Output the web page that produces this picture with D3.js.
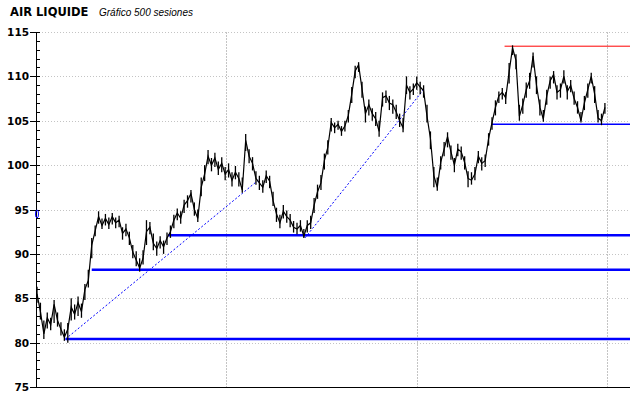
<!DOCTYPE html>
<html>
<head>
<meta charset="utf-8">
<script src="https://cdn.jsdelivr.net/npm/d3@7"></script>
<style>
  body { margin: 0; background: #fff; }
  svg { display: block; }
</style>
</head>
<body>
<svg id="chart" width="640" height="398"></svg>
<script>
// one value every 3 sessions (500 sessions)
var step = 3;
var closes = [
  85.5, 83.5, 81.0, 82.8, 82.0, 84.3, 82.5, 81.5, 80.6, 81.5,
  84.0, 83.2, 84.5, 83.5, 86.0, 87.0, 91.0, 92.6, 94.2, 93.2,
  94.0, 93.3, 94.2, 93.5, 93.8, 92.3, 92.8, 91.8, 90.2, 89.3,
  88.4, 89.5, 92.5, 93.0, 91.2, 90.6, 91.5, 90.8, 91.8, 92.5,
  93.8, 94.6, 94.0, 95.5, 96.0, 96.8, 95.0, 94.0, 97.5, 99.0,
  101.0, 100.0, 100.8, 99.5, 100.2, 99.0, 99.5, 98.3, 99.2, 98.5,
  97.2, 102.8, 101.0, 100.2, 98.5, 98.0, 97.5, 98.8, 98.2, 96.0,
  94.5, 93.5, 94.8, 94.2, 93.8, 93.0, 92.8, 93.2, 92.0, 93.2,
  93.5, 95.5, 97.0, 98.0, 100.5, 102.0, 104.8, 104.2, 104.6, 103.8,
  104.4, 105.6, 108.0, 110.6, 111.3, 108.6, 105.8, 106.8, 105.8, 105.2,
  103.8, 107.6, 107.8, 107.0, 106.8, 106.0, 105.0, 104.2, 109.0, 108.2,
  108.6, 109.3, 108.8, 108.4, 105.5, 103.0, 98.8, 97.5, 100.3, 101.8,
  103.2, 101.5, 100.0, 101.8, 101.5, 100.3, 98.5, 98.3, 99.0, 101.0,
  100.2, 100.5, 103.0, 104.8, 106.5, 107.8, 108.2, 107.6, 110.5, 113.2,
  111.8, 105.5, 106.8, 108.5, 109.5, 112.3, 109.0, 106.5, 105.2, 107.8,
  109.5, 110.2, 108.2, 108.5, 110.0, 108.3, 109.0, 107.5, 106.5, 105.0,
  107.0, 108.5, 110.0, 108.0, 105.3, 105.0, 106.5
];
var lows = [
  84.5, 82.6, 80.4, 81.6, 81.4, 82.2, 81.8, 80.8, 80.2, 80.0,
  82.5, 82.6, 83.0, 82.8, 84.8, 86.2, 89.5, 92.0, 93.4, 92.8,
  93.2, 92.8, 93.3, 92.9, 93.0, 91.6, 92.0, 91.0, 89.5, 88.6,
  88.0, 88.8, 91.0, 92.2, 90.4, 89.8, 90.6, 90.0, 91.0, 91.8,
  92.9, 93.8, 93.4, 94.6, 95.2, 95.8, 94.3, 93.6, 96.5, 98.2,
  100.1, 99.3, 99.8, 98.9, 99.2, 98.3, 98.6, 97.6, 98.4, 97.6,
  96.9, 101.6, 100.2, 99.4, 97.8, 97.2, 96.9, 98.0, 97.4, 95.4,
  93.6, 92.9, 94.0, 93.5, 93.0, 92.4, 92.2, 92.5, 91.8, 92.4,
  92.8, 94.6, 96.2, 97.2, 99.5, 101.2, 103.8, 103.6, 104.0, 103.3,
  103.8, 104.8, 107.0, 109.8, 110.5, 107.6, 104.8, 105.6, 105.0, 104.4,
  103.2, 106.6, 107.0, 106.2, 105.8, 105.2, 104.3, 103.7, 108.0, 107.4,
  107.9, 108.5, 108.0, 107.6, 104.8, 101.8, 97.5, 97.1, 99.5, 101.0,
  102.0, 100.6, 99.2, 101.0, 100.6, 99.5, 97.5, 97.8, 98.3, 100.2,
  99.4, 99.8, 102.2, 104.0, 105.6, 107.0, 107.4, 106.9, 109.2, 112.4,
  110.8, 105.0, 105.8, 107.6, 108.6, 111.0, 108.0, 105.6, 104.9, 106.8,
  108.6, 109.2, 107.4, 107.6, 109.2, 107.4, 108.2, 106.8, 105.8, 104.8,
  106.2, 107.6, 109.2, 107.0, 104.8, 104.5, 105.8
];
var highs = [
  86.3, 84.5, 82.5, 83.4, 82.8, 84.8, 83.4, 82.3, 81.5, 82.2,
  85.0, 84.3, 85.2, 84.4, 86.6, 88.2, 91.8, 93.2, 94.8, 94.0,
  94.5, 94.1, 94.6, 94.1, 94.3, 93.0, 93.4, 92.5, 91.0, 90.3,
  89.5, 90.4, 93.8, 93.6, 92.3, 91.4, 92.0, 91.5, 92.4, 93.2,
  94.4, 95.1, 94.8, 96.1, 96.6, 97.2, 95.8, 95.0, 98.6, 100.0,
  101.7, 100.8, 101.4, 100.4, 100.9, 99.8, 100.2, 99.2, 99.9, 99.2,
  98.6, 103.5, 101.8, 100.9, 99.3, 98.8, 98.3, 99.4, 98.8, 97.0,
  95.2, 94.4, 95.5, 94.9, 94.5, 93.7, 93.5, 93.8, 92.8, 93.8,
  94.3, 96.3, 97.8, 98.9, 101.3, 102.8, 105.3, 104.8, 105.0, 104.4,
  105.0, 106.2, 108.8, 111.2, 111.6, 109.4, 106.6, 107.4, 106.4, 106.0,
  105.0, 108.2, 108.4, 107.8, 107.4, 106.8, 105.8, 105.3, 110.0, 108.9,
  109.2, 110.0, 109.4, 109.0, 106.8, 103.8, 99.8, 98.6, 101.0, 102.6,
  103.7, 102.2, 100.8, 102.4, 102.1, 101.0, 99.3, 99.2, 99.8, 101.6,
  100.9, 101.2, 103.6, 105.4, 107.3, 108.3, 108.7, 108.2, 111.5, 113.5,
  112.5, 106.8, 107.5, 109.3, 110.4, 112.7, 110.0, 107.4, 106.2, 108.5,
  110.0, 110.6, 109.0, 109.2, 110.7, 109.0, 109.6, 108.3, 107.2, 106.0,
  107.8, 109.2, 110.4, 108.9, 106.2, 105.8, 107.0
];

// horizontal support / resistance lines
var levelValues = [113.4, 104.6, 92.1, 88.2, 80.4];
var levelStarts = [410, 399, 115, 48, 25];
var levelColors = ["#ff0000", "#0000ff", "#0000ff", "#0000ff", "#0000ff"];
var levelWidths = [1, 1.5, 2.5, 2.5, 2.5];

// trend lines [session, price] -> [session, price]
var trendLines = [
  [[25, 80.4], [194, 98.3]],
  [[235, 91.8], [339, 108.5]]
];

var yTicks = [75, 80, 85, 90, 95, 100, 105, 110, 115];
var xGridSessions = [166, 333, 500];

var svg = d3.select("#chart");
var x = d3.scaleLinear().domain([0, 520]).range([37, 630]);
var y = d3.scaleLinear().domain([75, 115]).range([387, 32]);

// title
svg.append("text").attr("x", 10).attr("y", 16)
  .attr("font-family", "DejaVu Sans").attr("font-weight", "bold")
  .attr("font-size", 11.5).attr("fill", "#000").text("AIR LIQUIDE");
svg.append("text").attr("x", 99).attr("y", 16)
  .attr("font-family", "Liberation Sans").attr("font-style", "italic")
  .attr("font-size", 10).attr("fill", "#000").text("Gráfico 500 sesiones");

// grid
svg.append("g").selectAll("line")
  .data(yTicks.filter(function (d) { return d > 75; }))
  .enter().append("line")
  .attr("x1", 36).attr("x2", 630)
  .attr("y1", function (d) { return Math.round(y(d)) + 0.5; })
  .attr("y2", function (d) { return Math.round(y(d)) + 0.5; })
  .attr("stroke", "#c4c4c4").attr("stroke-dasharray", "1,2");

svg.append("g").selectAll("line")
  .data(xGridSessions)
  .enter().append("line")
  .attr("x1", function (d) { return Math.round(x(d)) + 0.5; })
  .attr("x2", function (d) { return Math.round(x(d)) + 0.5; })
  .attr("y1", 32).attr("y2", 387)
  .attr("stroke", "#c4c4c4").attr("stroke-dasharray", "2,1");

// axis lines
svg.append("line").attr("x1", 36.5).attr("x2", 36.5).attr("y1", 32).attr("y2", 388)
  .attr("stroke", "#000");
svg.append("line").attr("x1", 36).attr("x2", 630).attr("y1", 387.5).attr("y2", 387.5)
  .attr("stroke", "#000");

// ticks every 1, long ones every 5
var minor = d3.range(75, 116, 1);
svg.append("g").selectAll("line")
  .data(minor)
  .enter().append("line")
  .attr("x1", function (d) { return d % 5 == 0 ? 30 : 36; })
  .attr("x2", 40)
  .attr("y1", function (d) { return Math.round(y(d)) + 0.5; })
  .attr("y2", function (d) { return Math.round(y(d)) + 0.5; })
  .attr("stroke", "#000");

svg.append("g").selectAll("text")
  .data(yTicks)
  .enter().append("text")
  .attr("x", 29).attr("y", function (d) { return y(d) + 4; })
  .attr("text-anchor", "end")
  .attr("font-family", "DejaVu Sans").attr("font-weight", "bold")
  .attr("font-size", 10.5).attr("fill", "#000")
  .text(function (d) { return d; });

// trend lines
svg.append("g").selectAll("line")
  .data(trendLines)
  .enter().append("line")
  .attr("x1", function (d) { return x(d[0][0]); })
  .attr("y1", function (d) { return y(d[0][1]); })
  .attr("x2", function (d) { return x(d[1][0]); })
  .attr("y2", function (d) { return y(d[1][1]); })
  .attr("stroke", "#0000ff").attr("stroke-dasharray", "2,2");

// levels
svg.append("g").selectAll("line")
  .data(levelValues)
  .enter().append("line")
  .attr("x1", function (d, i) { return x(levelStarts[i]); })
  .attr("x2", 630)
  .attr("y1", function (d) { return y(d); })
  .attr("y2", function (d) { return y(d); })
  .attr("stroke", function (d, i) { return levelColors[i]; })
  .attr("stroke-width", function (d, i) { return levelWidths[i]; });

// small blue mark on the axis
svg.append("ellipse").attr("cx", 37).attr("cy", y(94.5)).attr("rx", 1.5).attr("ry", 4)
  .attr("fill", "none").attr("stroke", "#0000ff");

// high-low bars
svg.append("g").selectAll("line")
  .data(closes)
  .enter().append("line")
  .attr("x1", function (d, i) { return x(i * step); })
  .attr("x2", function (d, i) { return x(i * step); })
  .attr("y1", function (d, i) { return y(lows[i]); })
  .attr("y2", function (d, i) { return y(highs[i]); })
  .attr("stroke", "#000").attr("stroke-width", 1.3);

// closes
var line = d3.line()
  .x(function (d, i) { return x(i * step); })
  .y(function (d) { return y(d); });
svg.append("path").datum(closes)
  .attr("d", line)
  .attr("fill", "none").attr("stroke", "#000").attr("stroke-width", 1.2);
</script>
</body>
</html>
